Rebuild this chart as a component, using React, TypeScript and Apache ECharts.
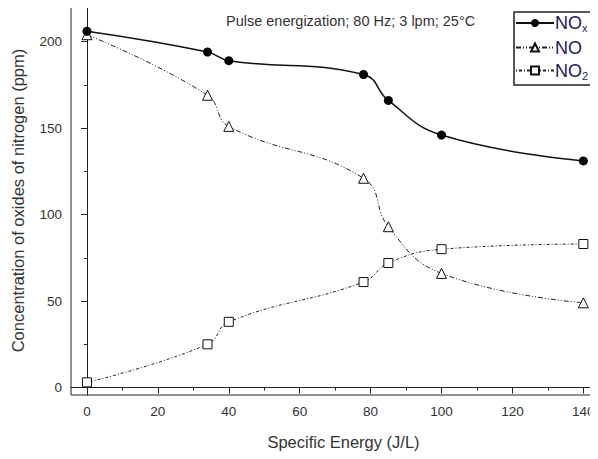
import React, { useEffect, useRef } from "react";
import * as echarts from "echarts";

const energy = [0, 34, 40, 78, 85, 100, 140];
const noxValues = [206, 194, 189, 181, 166, 146, 131];
const noValues = [204, 169, 151, 121, 93, 66, 49];
const no2Values = [3, 25, 38, 61, 72, 80, 83];

const xMajor = [0, 20, 40, 60, 80, 100, 120, 140];
const xMinor = [10, 30, 50, 70, 90, 110, 130];
const yMajor = [0, 50, 100, 150, 200];
const yMinor = [25, 75, 125, 175];

const FONT = "Liberation Sans";
const DARK = "#222";
const LEG = "#1c1c5c";

export default function App() {
  const ref = useRef<HTMLDivElement>(null);
  useEffect(() => {
    if (!ref.current) return;
    const chart = echarts.init(ref.current, null, { renderer: "svg" });
    const pair = (vals: number[]) => energy.map((e, i) => [e, vals[i]]);
    const xBase = { type: "value", min: -4.5, max: 143, splitLine: { show: false } };
    const yBase = { type: "value", min: -4.3, max: 220.6, splitLine: { show: false } };
    chart.setOption({
      animation: false,
      textStyle: { fontFamily: FONT },
      title: {
        text: "Pulse energization; 80 Hz; 3 lpm; 25°C",
        left: 221,
        top: 8,
        textStyle: { fontSize: 14.5, fontWeight: "normal", color: "#333", fontFamily: FONT },
      },
      grid: {
        left: 71, right: 4, top: 6, bottom: 64,
        show: true, borderColor: DARK, borderWidth: 1, backgroundColor: "transparent",
      },
      legend: {
        orient: "vertical",
        left: 514,
        top: 12,
        width: 83,
        borderColor: DARK,
        borderWidth: 1.5,
        padding: [2, 6, 4, 1],
        itemGap: 5,
        itemWidth: 38,
        itemHeight: 10,
        backgroundColor: "#fff",
        data: ["NOx", "NO", "NO2"],
        formatter: (n: string) => (n === "NOx" ? "NO{s|x}" : n === "NO2" ? "NO{s|2}" : "NO"),
        textStyle: {
          fontSize: 18,
          color: LEG,
          fontFamily: FONT,
          padding: [0, 0, 0, -4],
          rich: { s: { fontSize: 11, color: LEG, padding: [10, 0, 0, 0], fontFamily: FONT } },
        },
      },
      xAxis: [
        {
          ...xBase,
          name: "Specific Energy (J/L)",
          nameLocation: "middle",
          nameGap: 38,
          nameTextStyle: { fontSize: 16.5, color: "#333", fontFamily: FONT, padding: [0, 0, 0, 22] },
          axisLine: { show: true, lineStyle: { color: DARK, width: 1 } },
          axisTick: { show: true, length: 6, customValues: xMajor, lineStyle: { color: DARK } },
          axisLabel: { customValues: xMajor, fontSize: 13.5, color: "#333", margin: 9, fontFamily: FONT },
        },
        {
          ...xBase,
          position: "bottom",
          axisLine: { show: false },
          axisTick: { show: true, length: 3, customValues: xMinor, lineStyle: { color: DARK } },
          axisLabel: { show: false },
        },
      ],
      yAxis: [
        {
          ...yBase,
          name: "Concentration of oxides of nitrogen (ppm)",
          nameLocation: "middle",
          nameGap: 45,
          nameTextStyle: { fontSize: 16.5, color: "#333", fontFamily: FONT },
          axisLine: { show: true, lineStyle: { color: DARK, width: 1 } },
          axisTick: { show: true, length: 6, customValues: yMajor, lineStyle: { color: DARK } },
          axisLabel: { customValues: yMajor, fontSize: 13.5, color: "#333", margin: 9, fontFamily: FONT },
        },
        {
          ...yBase,
          position: "left",
          axisLine: { show: false },
          axisTick: { show: true, length: 3, customValues: yMinor, lineStyle: { color: DARK } },
          axisLabel: { show: false },
        },
      ],
      series: [
        {
          name: "NOx",
          type: "line",
          data: pair(noxValues),
          smooth: 0.45,
          symbol: "circle",
          symbolSize: 9,
          itemStyle: { color: "#000" },
          lineStyle: { color: "#111", width: 1.5, type: "solid" },
          z: 3,
        },
        {
          name: "NO",
          type: "line",
          data: pair(noValues),
          smooth: 0.45,
          symbol: "triangle",
          symbolSize: 10,
          itemStyle: { color: "#fff", borderColor: "#111", borderWidth: 1 },
          lineStyle: { color: "#222", width: 1, type: [5, 2, 1, 2, 1, 2] },
          z: 2,
        },
        {
          name: "NO2",
          type: "line",
          data: pair(no2Values),
          smooth: 0.45,
          symbol: "rect",
          symbolSize: 9,
          itemStyle: { color: "#fff", borderColor: "#111", borderWidth: 1 },
          lineStyle: { color: "#222", width: 1, type: [1, 2, 3, 2] },
          z: 2,
        },
      ],
    });
    return () => chart.dispose();
  }, []);
  return <div ref={ref} style={{ width: 598, height: 459, margin: -8 }} />;
}
